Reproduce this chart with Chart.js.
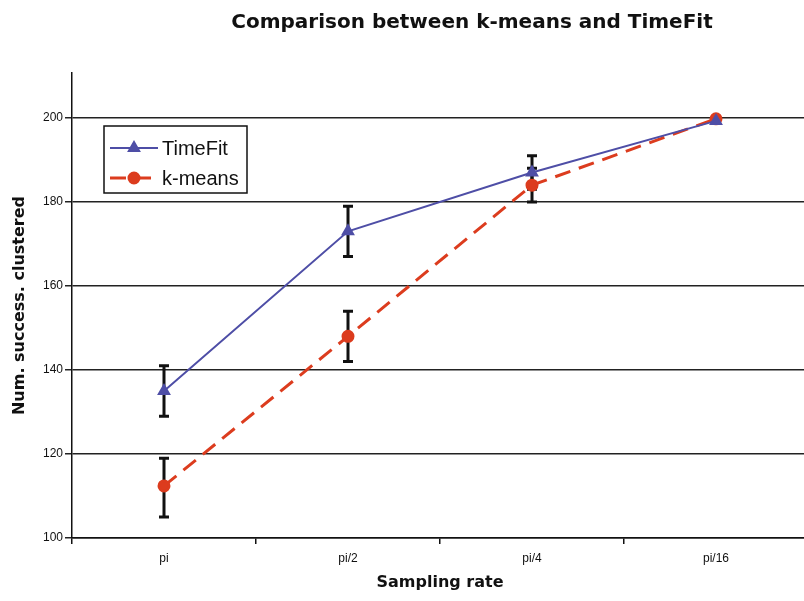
<!DOCTYPE html>
<html>
<head>
<meta charset="utf-8">
<script src="https://cdn.jsdelivr.net/npm/chart.js@4/dist/chart.umd.min.js"></script>
<style>
  html, body { margin: 0; padding: 0; background: #fff; overflow: hidden; }
</style>
</head>
<body>
<canvas id="grafico" width="820" height="601"></canvas>
<script>
// ----------------------- dados --------------------------------------------//
var categorias = ['pi', 'pi/2', 'pi/4', 'pi/16'];

var timefit = [135, 173, 187, 199.3];
var timefitMin = [129, 167, 183, null];
var timefitMax = [141, 179, 191, null];

var kmeans = [112.4, 148, 184, 199.8];
var kmeansMin = [105, 142, 180, null];
var kmeansMax = [119, 154, 188, null];

var yTicks = [100, 120, 140, 160, 180, 200];

var titulo = 'Comparison between k-means and TimeFit';

// ----------------------- plugins --------------------------------------------//
var barrasErro = {
  id: 'barrasErro',
  beforeDatasetsDraw: function (chart) {
    var ctx = chart.ctx;
    var x = chart.scales.x, y = chart.scales.y;
    ctx.save();
    ctx.strokeStyle = '#111';
    ctx.lineWidth = 3;
    chart.data.datasets.forEach(function (ds) {
      for (var i = 0; i < ds.data.length; i++) {
        if (ds.errMin[i] == null) continue;
        var px = x.getPixelForValue(i);
        var y1 = y.getPixelForValue(ds.errMin[i]);
        var y2 = y.getPixelForValue(ds.errMax[i]);
        ctx.beginPath();
        ctx.moveTo(px, y1); ctx.lineTo(px, y2);
        ctx.moveTo(px - 5, y1); ctx.lineTo(px + 5, y1);
        ctx.moveTo(px - 5, y2); ctx.lineTo(px + 5, y2);
        ctx.stroke();
      }
    });
    ctx.restore();
  }
};

var tituloLegenda = {
  id: 'tituloLegenda',
  afterDraw: function (chart) {
    var ctx = chart.ctx;
    ctx.save();
    ctx.fillStyle = '#111';
    ctx.font = 'bold 20px "DejaVu Sans", sans-serif';
    ctx.textAlign = 'center';
    ctx.textBaseline = 'middle';
    ctx.fillText(titulo, 472, 23);

    // legenda
    ctx.fillStyle = '#fff';
    ctx.fillRect(104, 126, 143, 67);
    ctx.strokeStyle = '#111';
    ctx.lineWidth = 1.5;
    ctx.strokeRect(104, 126, 143, 67);
    chart.data.datasets.forEach(function (ds, i) {
      var yy = 148 + i * 30;
      ctx.strokeStyle = ds.borderColor;
      ctx.lineWidth = ds.borderWidth;
      ctx.setLineDash(ds.borderDash || []);
      ctx.beginPath();
      ctx.moveTo(110, yy); ctx.lineTo(158, yy);
      ctx.stroke();
      ctx.setLineDash([]);
      ctx.fillStyle = ds.borderColor;
      Chart.helpers.drawPoint(ctx, { pointStyle: ds.pointStyle, radius: ds.pointRadius, rotation: 0, borderWidth: 1 }, 134, yy);
      ctx.fill();
      ctx.fillStyle = '#111';
      ctx.font = '20px "Liberation Sans", Arial, sans-serif';
      ctx.textAlign = 'left';
      ctx.fillText(ds.label, 162, yy + 1);
    });
    ctx.restore();
  }
};

// ----------------------- gráfico --------------------------------------------//
var data = {
  labels: categorias,
  datasets: [
    {
      label: 'TimeFit',
      data: timefit,
      errMin: timefitMin,
      errMax: timefitMax,
      borderColor: '#4e4ea6',
      backgroundColor: '#4e4ea6',
      borderWidth: 2,
      pointStyle: 'triangle',
      pointRadius: 6,
      tension: 0
    },
    {
      label: 'k-means',
      data: kmeans,
      errMin: kmeansMin,
      errMax: kmeansMax,
      borderColor: '#dc3c1e',
      backgroundColor: '#dc3c1e',
      borderWidth: 3,
      borderDash: [16, 9],
      pointStyle: 'circle',
      pointRadius: 5,
      tension: 0
    }
  ]
};

var options = {
  responsive: false,
  animation: false,
  layout: { padding: { top: 73, right: 12, left: 0, bottom: 0 } },
  plugins: { legend: { display: false }, title: { display: false }, tooltip: { enabled: false } },
  scales: {
    x: {
      offset: true,
      afterFit: function (s) { s.height = 63; },
      border: { color: '#111', width: 1.5 },
      grid: { offset: true, drawOnChartArea: false, drawTicks: true, tickLength: 6, color: '#111', lineWidth: 1.5 },
      ticks: { color: '#111', padding: 7, font: { family: '"Liberation Sans", Arial', size: 12 } },
      title: { display: true, text: 'Sampling rate', color: '#111', padding: { top: 0, bottom: 9 },
               font: { family: '"DejaVu Sans"', size: 16, weight: 'bold' } }
    },
    y: {
      min: 100,
      max: 210.7,
      afterFit: function (s) { s.width = 72; },
      afterBuildTicks: function (s) { s.ticks = yTicks.map(function (v) { return { value: v }; }); },
      border: { color: '#111', width: 1.5 },
      grid: { color: '#222', lineWidth: 1.5, tickLength: 7 },
      ticks: { color: '#111', padding: 2, font: { family: '"Liberation Sans", Arial', size: 12 } },
      title: { display: true, text: 'Num. success. clustered', color: '#111', padding: { top: 10, bottom: 0 },
               font: { family: '"DejaVu Sans"', size: 16, weight: 'bold' } }
    }
  }
};

var ctx = document.getElementById('grafico').getContext('2d');
var grafico = new Chart(ctx, {
  type: 'line',
  data: data,
  options: options,
  plugins: [barrasErro, tituloLegenda]
});
</script>
</body>
</html>
